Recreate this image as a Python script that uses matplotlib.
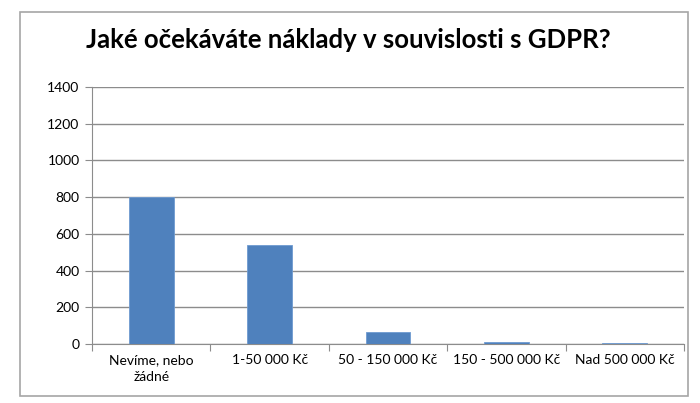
import matplotlib.pyplot as plt
import numpy as np
from matplotlib.patches import Rectangle

categories = ['Nevíme, nebo\nžádné', '1-50 000 Kč', '50 - 150 000 Kč', '150 - 500 000 Kč', 'Nad 500 000 Kč']
values = [800, 540, 65, 12, 6]
yticks = [0, 200, 400, 600, 800, 1000, 1200, 1400]

plt.rcParams['font.family'] = ['Lato', 'DejaVu Sans']

fig = plt.figure(figsize=(7, 4.03), dpi=100)
fig.patch.set_facecolor('white')
# outer chart frame
fig.add_artist(Rectangle((20 / 700, 1 - 396 / 403), 668 / 700, 384 / 403,
                         transform=fig.transFigure, fill=False, edgecolor='#a6a6a6', linewidth=1.2))

ax = fig.add_axes([92 / 700, 1 - 344 / 403, 592 / 700, 257 / 403])
x = np.arange(len(categories))
ax.bar(x, values, width=0.38, color='#4f81bd', edgecolor='#6f9bd1', linewidth=0.6, zorder=3)

ax.set_xlim(-0.5, len(categories) - 0.5)
ax.set_ylim(0, 1400)
ax.set_yticks(yticks)
ax.yaxis.grid(True, color='#8c8c8c', linewidth=1.0, zorder=0)
ax.set_xticks(np.arange(len(categories) + 1) - 0.5)
ax.set_xticklabels([])
ax.set_xticks(x, minor=True)
ax.set_xticklabels(categories, minor=True, fontsize=10, linespacing=1.5)
ax.tick_params(axis='x', which='minor', length=0, pad=7)
ax.tick_params(axis='x', which='major', length=5, color='#8c8c8c')
ax.tick_params(axis='y', length=5, color='#8c8c8c', labelsize=10, pad=4)

for s in ['top', 'right']:
    ax.spines[s].set_visible(False)
for s in ['left', 'bottom']:
    ax.spines[s].set_color('#8c8c8c')

fig.text(0.497, 1 - 40 / 403, 'Jaké očekáváte náklady v souvislosti s GDPR?',
         ha='center', va='center', fontsize=18.5, fontweight='bold')

fig.savefig('out.png', dpi=100)
